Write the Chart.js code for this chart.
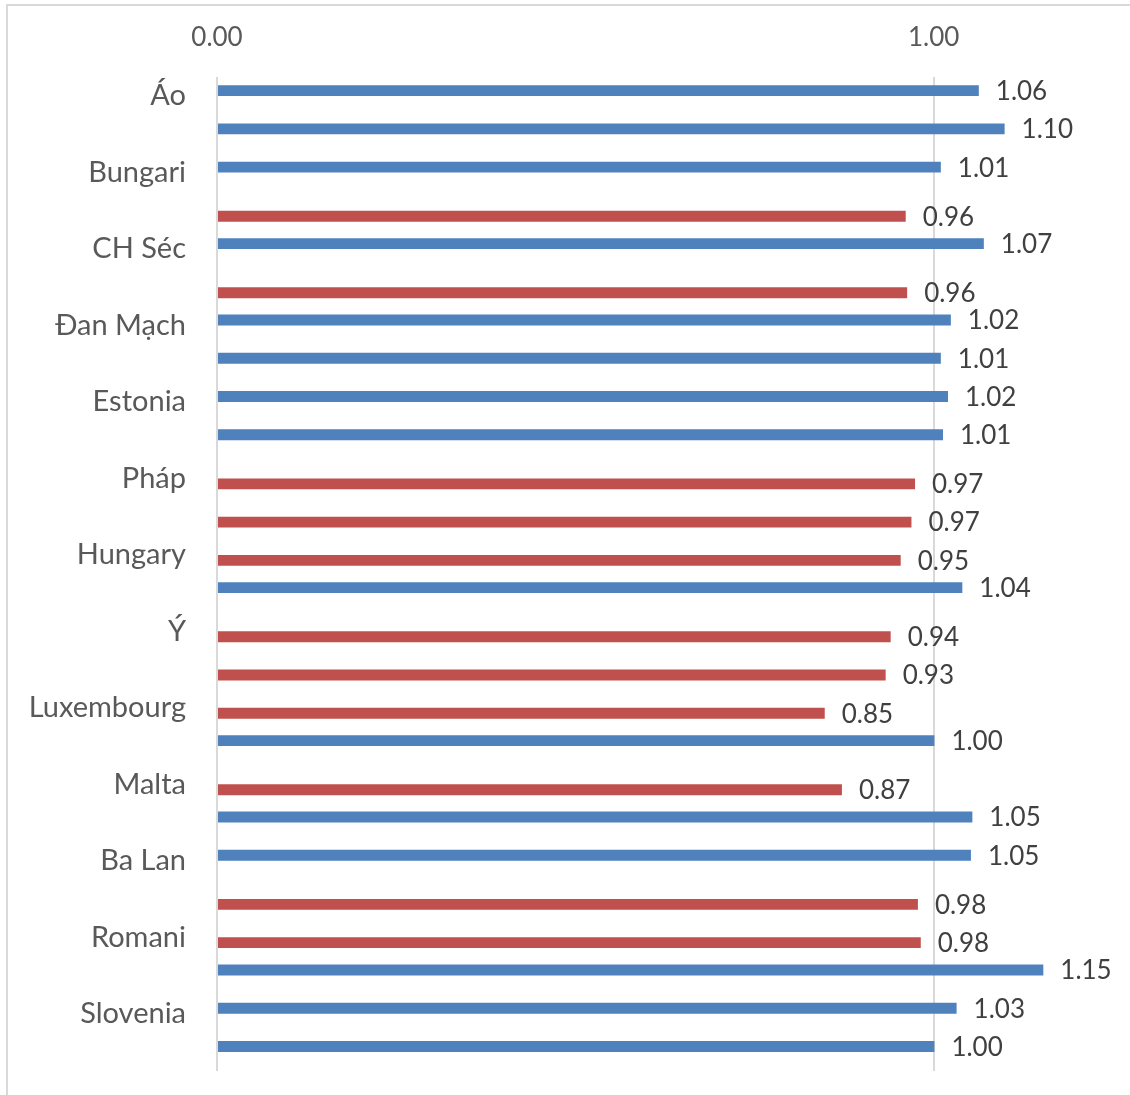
<!DOCTYPE html>
<html>
<head>
<meta charset="utf-8">
<script src="https://cdn.jsdelivr.net/npm/chart.js@4/dist/chart.umd.min.js"></script>
<style>
  html, body { margin: 0; padding: 0; background: #fff; }
  #wrap { width: 1130px; height: 1095px; }
</style>
</head>
<body>
<div id="wrap"><canvas id="chart" width="1130" height="1095"></canvas></div>
<script>
// danh mục (chỉ một nửa nhãn hiện trên hình, các nhãn khác không đọc được)
const categories = [
  'Áo', '', 'Bungari', '', 'CH Séc', '', 'Đan Mạch', '', 'Estonia', '',
  'Pháp', '', 'Hungary', '', 'Ý', '', 'Luxembourg', '', 'Malta', '',
  'Ba Lan', '', 'Romani', '', 'Slovenia', ''
];

// giá trị >= 1 (xanh)
const blueValues = [
  1.063, 1.099, 1.010, null, 1.070, null, 1.024, 1.010, 1.020, 1.013,
  null, null, null, 1.040, null, null, null, 1.001, null, 1.054,
  1.052, null, null, 1.153, 1.032, 1.001
];

// giá trị < 1 (đỏ)
const redValues = [
  null, null, null, 0.961, null, 0.963, null, null, null, null,
  0.974, 0.969, 0.954, null, 0.940, 0.933, 0.848, null, 0.872, null,
  null, 0.978, 0.982, null, null, null
];

const xTicks = [0, 1];
const xMin = 0;
const xMax = 1.2;

const font = 'Lato';

// viền khung biểu đồ
const frame = {
  id: 'frame',
  beforeDraw(chart) {
    const ctx = chart.ctx;
    ctx.save();
    ctx.fillStyle = '#ffffff';
    ctx.fillRect(0, 0, chart.width, chart.height);
    ctx.strokeStyle = '#d9d9d9';
    ctx.lineWidth = 2;
    ctx.strokeRect(7, 5, 1400, 1400);
    ctx.restore();
  }
};

// nhãn giá trị bên phải mỗi thanh
const valueLabels = {
  id: 'valueLabels',
  afterDatasetsDraw(chart) {
    const ctx = chart.ctx;
    ctx.save();
    ctx.font = '26px ' + font;
    ctx.fillStyle = '#404040';
    ctx.textAlign = 'left';
    ctx.textBaseline = 'middle';
    chart.data.datasets.forEach((ds, i) => {
      chart.getDatasetMeta(i).data.forEach((bar, j) => {
        const v = ds.data[j];
        if (v === null || v === undefined) return;
        ctx.fillText(v.toFixed(2), bar.x + 17, bar.y + 1);
      });
    });
    ctx.restore();
  }
};

window.addEventListener('load', function() {
  const ctx = document.getElementById('chart').getContext('2d');
  new Chart(ctx, {
    type: 'bar',
    data: {
      labels: categories,
      datasets: [
        {
          label: 'xanh',
          data: blueValues,
          backgroundColor: '#4f81bd',
          categoryPercentage: 0.57,
          barPercentage: 1.0
        },
        {
          label: 'đỏ',
          data: redValues,
          backgroundColor: '#c0504d',
          categoryPercentage: 0.57,
          barPercentage: 1.0
        }
      ]
    },
    options: {
      indexAxis: 'y',
      responsive: false,
      animation: false,
      layout: {
        padding: { left: 0, top: 0, right: 53, bottom: 24 }
      },
      plugins: {
        legend: { display: false },
        tooltip: { enabled: false }
      },
      scales: {
        x: {
          type: 'linear',
          position: 'top',
          min: xMin,
          max: xMax,
          afterBuildTicks: function(scale) {
            scale.ticks = xTicks.map(v => ({ value: v }));
          },
          afterFit: function(scale) {
            scale.height = 77;
            scale.paddingLeft = 0;
            scale.paddingRight = 0;
          },
          ticks: {
            padding: 24,
            color: '#595959',
            font: { family: font, size: 26 },
            callback: v => Number(v).toFixed(2)
          },
          grid: {
            color: '#d9d9d9',
            lineWidth: 2,
            drawTicks: false
          },
          border: { display: false }
        },
        y: {
          afterFit: function(scale) {
            scale.width = 217;
            scale.paddingTop = 0;
            scale.paddingBottom = 0;
          },
          ticks: {
            autoSkip: false,
            padding: 31,
            color: '#595959',
            font: { family: font, size: 29 }
          },
          grid: { display: false, drawTicks: false },
          border: { display: false }
        }
      }
    },
    plugins: [frame, valueLabels]
  });
});
</script>
</body>
</html>
